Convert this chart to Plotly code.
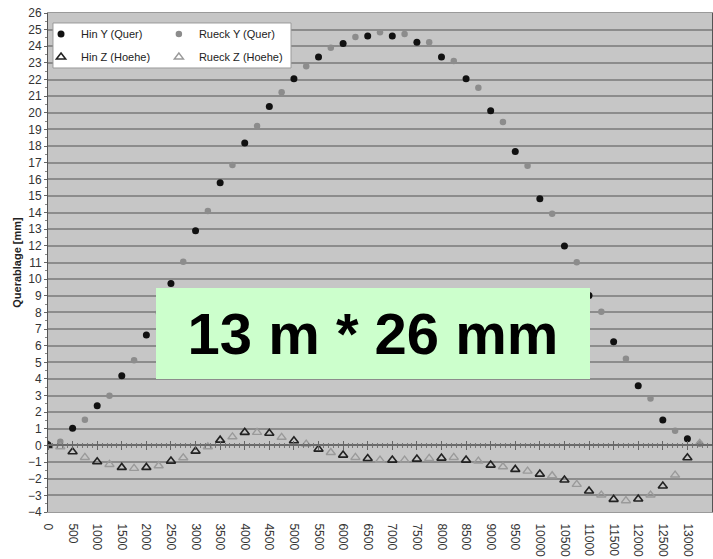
import plotly.graph_objects as go

# positions along the beam [mm]
x_hin = [0, 500, 1000, 1500, 2000, 2500, 3000, 3500, 4000, 4500, 5000, 5500, 6000, 6500,
         7000, 7500, 8000, 8500, 9000, 9500, 10000, 10500, 11000, 11500, 12000, 12500, 13000]
x_rueck = [250, 750, 1250, 1750, 2250, 2750, 3250, 3750, 4250, 4750, 5250, 5750, 6250, 6750,
           7250, 7750, 8250, 8750, 9250, 9750, 10250, 10750, 11250, 11750, 12250, 12750, 13250]

hin_y = [0.05, 1.03, 2.39, 4.19, 6.64, 9.73, 12.91, 15.8, 18.18, 20.38, 22.05, 23.36, 24.16, 24.62,
         24.62, 24.24, 23.36, 22.05, 20.13, 17.68, 14.84, 11.99, 9.02, 6.24, 3.59, 1.53, 0.4]
rueck_y = [0.22, 1.54, 2.99, 5.12, 8.0, 11.05, 14.1, 16.86, 19.2, 21.23, 22.8, 23.91, 24.56, 24.84,
           24.74, 24.24, 23.11, 21.51, 19.45, 16.82, 13.93, 11.01, 8.04, 5.21, 2.83, 0.88, 0.1]
hin_z = [0.0, -0.38, -0.98, -1.32, -1.32, -0.94, -0.34, 0.32, 0.79, 0.73, 0.28, -0.22, -0.58, -0.78,
         -0.88, -0.82, -0.76, -0.88, -1.18, -1.44, -1.72, -2.08, -2.74, -3.24, -3.22, -2.44, -0.74]
rueck_z = [-0.08, -0.72, -1.14, -1.38, -1.22, -0.74, -0.08, 0.52, 0.79, 0.49, 0.08, -0.42, -0.72, -0.88,
           -0.88, -0.78, -0.72, -0.94, -1.28, -1.54, -1.82, -2.34, -2.98, -3.32, -2.98, -1.78, 0.13]

x_range = [0, 13500]
y_range = [-4, 26]
y_title = "Querablage [mm]"
box_text = "13 m * 26 mm"

fig = go.Figure()
fig.add_trace(go.Scatter(x=x_hin, y=hin_y, mode="markers", name="Hin Y (Quer)",
                         marker=dict(symbol="circle", size=7, color="#111111"),
                         legend="legend", legendgroup="a"))
fig.add_trace(go.Scatter(x=x_rueck, y=rueck_y, mode="markers", name="Rueck Y (Quer)",
                         marker=dict(symbol="circle", size=6.5, color="#8c8c8c"),
                         legend="legend2", legendgroup="b"))
fig.add_trace(go.Scatter(x=x_hin, y=hin_z, mode="markers", name="Hin Z (Hoehe)",
                         marker=dict(symbol="triangle-up-open", size=8, color="#222222",
                                     line=dict(width=1.6)),
                         xaxis="x2", legend="legend", legendgroup="c"))
fig.add_trace(go.Scatter(x=x_rueck, y=rueck_z, mode="markers", name="Rueck Z (Hoehe)",
                         marker=dict(symbol="triangle-up-open", size=8, color="#9a9a9a",
                                     line=dict(width=1.4)),
                         xaxis="x3", legend="legend2", legendgroup="d"))

tickfont = dict(family="Liberation Sans, Arial", size=12, color="#333333")
zero_pos = (0 - y_range[0]) / (y_range[1] - y_range[0])

fig.update_layout(
    width=713, height=559,
    margin=dict(l=48, r=1, t=13, b=47),
    paper_bgcolor="white",
    plot_bgcolor="#c6c6c6",
    font=dict(family="Liberation Sans, Arial", color="#222222"),
    xaxis=dict(range=x_range, dtick=500, tick0=0, tickangle=90, tickformat="d",
               showgrid=False, zeroline=False, tickfont=tickfont, ticks="outside",
               ticklen=8, tickcolor="rgba(0,0,0,0)", showline=True, linecolor="#9a9a9a",
               linewidth=1, mirror=True),
    xaxis2=dict(range=x_range, overlaying="x", anchor="free", position=zero_pos,
                showticklabels=False, showgrid=False, zeroline=False,
                showline=True, linecolor="#6a6a6a", linewidth=1.5,
                ticks="outside", ticklen=4, dtick=500, tick0=0, tickcolor="#666666",
                minor=dict(dtick=100, ticks="outside", ticklen=2, tickcolor="#777777")),
    xaxis3=dict(range=x_range, overlaying="x", anchor="free", position=zero_pos,
                showticklabels=False, showgrid=False, zeroline=False, showline=False,
                ticks="inside", ticklen=4, dtick=500, tick0=0, tickcolor="#666666",
                minor=dict(dtick=100, ticks="inside", ticklen=2, tickcolor="#777777")),
    yaxis=dict(range=y_range, dtick=1, tick0=0, showgrid=True, gridcolor="#8c8c8c",
               gridwidth=2, zeroline=False, tickfont=tickfont,
               ticks="outside", ticklen=3, tickcolor="#666666",
               minor=dict(dtick=0.5, ticks="outside", ticklen=2, tickcolor="#888888"),
               showline=True, linecolor="#555555", linewidth=1, mirror=True,
               title=dict(text=y_title, standoff=4,
                          font=dict(family="Liberation Sans, Arial", size=11,
                                    color="#222222", weight="bold"))),
    legend=dict(x=-0.0105, y=0.987, xanchor="left", yanchor="top",
                bgcolor="rgba(0,0,0,0)", font=dict(size=11, color="#222222"),
                itemwidth=30, tracegroupgap=4),
    legend2=dict(x=0.167, y=0.987, xanchor="left", yanchor="top",
                 bgcolor="rgba(0,0,0,0)", font=dict(size=11, color="#222222"),
                 itemwidth=30, tracegroupgap=4),
    shapes=[dict(type="rect", xref="paper", yref="paper", x0=0.0075, x1=0.366,
                 y0=0.8898, y1=0.98, fillcolor="white",
                 line=dict(color="#9a9a9a", width=1), layer="above")],
    annotations=[dict(x=6600, y=6.73, xref="x", yref="y", text=box_text,
                      showarrow=False, bgcolor="#ccffcc", width=434, height=91,
                      borderpad=0, borderwidth=0,
                      font=dict(family="Liberation Sans, Arial", size=58,
                                color="black", weight="bold"))],
)

fig.write_html("out.html")
